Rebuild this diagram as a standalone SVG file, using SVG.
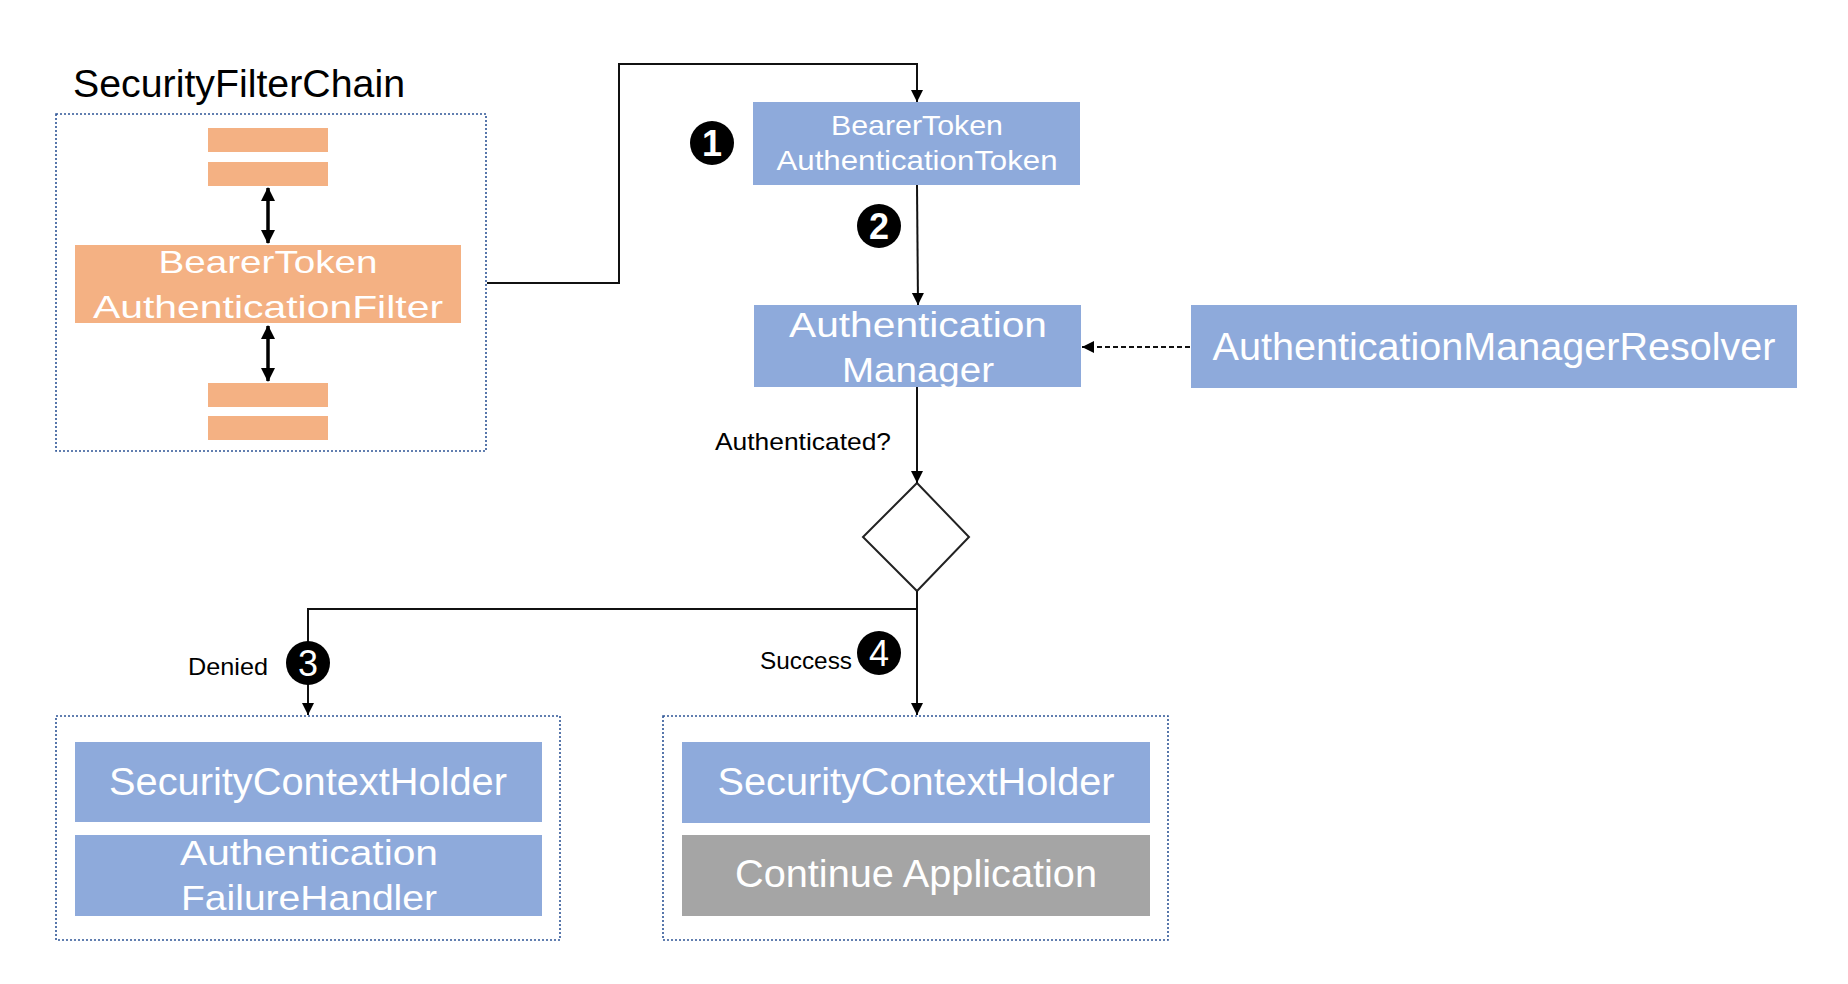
<svg xmlns="http://www.w3.org/2000/svg" width="1848" height="984" viewBox="0 0 1848 984">
<style>
text{font-family:"Liberation Sans",Arial,sans-serif;}
.w{fill:#ffffff;text-anchor:middle;}
.k{fill:#000000;}
.blue{fill:#8eaadb;}
.orange{fill:#f4b183;}
.gray{fill:#a5a5a5;}
.group{fill:none;stroke:#2f5597;stroke-width:1.6;stroke-dasharray:2 2;}
.conn{fill:none;stroke:#111;stroke-width:2;}
.dash{fill:none;stroke:#111;stroke-width:1.8;stroke-dasharray:5 3;}
.dbl{fill:none;stroke:#000;stroke-width:3.5;}
.badge{fill:#000;}
.num{fill:#fff;text-anchor:middle;}
</style>
<defs>
<marker id="ah" markerUnits="userSpaceOnUse" markerWidth="14" markerHeight="14" viewBox="0 0 14 14" refX="13" refY="7" orient="auto">
<path d="M1,1 L13,7 L1,13 Z" fill="#000"/>
</marker>
<marker id="ahb" markerUnits="userSpaceOnUse" markerWidth="14" markerHeight="16" viewBox="0 0 14 16" refX="13" refY="8" orient="auto-start-reverse">
<path d="M0,1 L14,8 L0,15 Z" fill="#000"/>
</marker>
</defs>
<rect width="1848" height="984" fill="#ffffff"/>

<g id="security-filter-chain">
<text class="k" x="73" y="97" font-size="38" textLength="332" lengthAdjust="spacingAndGlyphs">SecurityFilterChain</text>
<rect class="group" x="56" y="114" width="430" height="337"/>
<rect class="orange" x="208" y="128" width="120" height="24"/>
<rect class="orange" x="208" y="162" width="120" height="24"/>
<rect class="orange" x="75" y="245" width="386" height="78"/>
<text class="w" x="268" y="273" font-size="32" textLength="219" lengthAdjust="spacingAndGlyphs">BearerToken</text>
<text class="w" x="268" y="318" font-size="32" textLength="350" lengthAdjust="spacingAndGlyphs">AuthenticationFilter</text>
<rect class="orange" x="208" y="383" width="120" height="24"/>
<rect class="orange" x="208" y="416" width="120" height="24"/>
</g>

<g id="bearer-token-authentication-token">
<rect class="blue" x="753" y="102" width="327" height="83"/>
<text class="w" x="917" y="135" font-size="28" textLength="172" lengthAdjust="spacingAndGlyphs">BearerToken</text>
<text class="w" x="917" y="170" font-size="28" textLength="281" lengthAdjust="spacingAndGlyphs">AuthenticationToken</text>
</g>

<g id="authentication-manager">
<rect class="blue" x="754" y="305" width="327" height="82"/>
<text class="w" x="918" y="337" font-size="35" textLength="258" lengthAdjust="spacingAndGlyphs">Authentication</text>
<text class="w" x="918" y="382" font-size="35" textLength="152" lengthAdjust="spacingAndGlyphs">Manager</text>
</g>

<g id="authentication-manager-resolver">
<rect class="blue" x="1191" y="305" width="606" height="83"/>
<text class="w" x="1494" y="360" font-size="38" textLength="563" lengthAdjust="spacingAndGlyphs">AuthenticationManagerResolver</text>
</g>

<g id="decision">
<polygon points="917,483 969,537 917,591 863,537" fill="#fff" stroke="#222" stroke-width="2"/>
</g>

<g id="denied-group">
<rect class="group" x="56" y="716" width="504" height="224"/>
<rect class="blue" x="75" y="742" width="467" height="80"/>
<text class="w" x="308" y="795" font-size="38" textLength="398" lengthAdjust="spacingAndGlyphs">SecurityContextHolder</text>
<rect class="blue" x="75" y="835" width="467" height="81"/>
<text class="w" x="309" y="865" font-size="35" textLength="258" lengthAdjust="spacingAndGlyphs">Authentication</text>
<text class="w" x="309" y="910" font-size="35" textLength="256" lengthAdjust="spacingAndGlyphs">FailureHandler</text>
</g>

<g id="success-group">
<rect class="group" x="663" y="716" width="505" height="224"/>
<rect class="blue" x="682" y="742" width="468" height="81"/>
<text class="w" x="916" y="795" font-size="38" textLength="397" lengthAdjust="spacingAndGlyphs">SecurityContextHolder</text>
<rect class="gray" x="682" y="835" width="468" height="81"/>
<text class="w" x="916" y="887" font-size="38" textLength="362" lengthAdjust="spacingAndGlyphs">Continue Application</text>
</g>

<g id="connectors">
<line class="dbl" x1="268" y1="188" x2="268" y2="243" marker-start="url(#ahb)" marker-end="url(#ahb)"/>
<line class="dbl" x1="268" y1="326" x2="268" y2="381" marker-start="url(#ahb)" marker-end="url(#ahb)"/>
<polyline class="conn" points="487,283 619,283 619,64 917,64 917,102" marker-end="url(#ah)"/>
<polyline class="conn" points="917,185 918,305" marker-end="url(#ah)"/>
<line class="dash" x1="1190" y1="347" x2="1082" y2="347" marker-end="url(#ah)"/>
<line class="conn" x1="917" y1="387" x2="917" y2="483" marker-end="url(#ah)"/>
<line class="conn" x1="917" y1="591" x2="917" y2="715" marker-end="url(#ah)"/>
<polyline class="conn" points="917,609 308,609 308,715" marker-end="url(#ah)"/>
</g>

<g id="labels">
<text class="k" x="715" y="450" font-size="24" textLength="176" lengthAdjust="spacingAndGlyphs">Authenticated?</text>
<text class="k" x="760" y="669" font-size="24" textLength="92" lengthAdjust="spacingAndGlyphs">Success</text>
<text class="k" x="188" y="675" font-size="24" textLength="80" lengthAdjust="spacingAndGlyphs">Denied</text>
</g>

<g id="badge-1"><circle class="badge" cx="712" cy="143" r="22"/><text class="num" x="712" y="156" font-size="36" font-weight="bold">1</text></g>
<g id="badge-2"><circle class="badge" cx="879" cy="226" r="22"/><text class="num" x="879" y="239" font-size="36" font-weight="bold">2</text></g>
<g id="badge-3"><circle class="badge" cx="308" cy="663" r="22"/><text class="num" x="308" y="676" font-size="36">3</text></g>
<g id="badge-4"><circle class="badge" cx="879" cy="653" r="22"/><text class="num" x="879" y="666" font-size="36">4</text></g>
</svg>
